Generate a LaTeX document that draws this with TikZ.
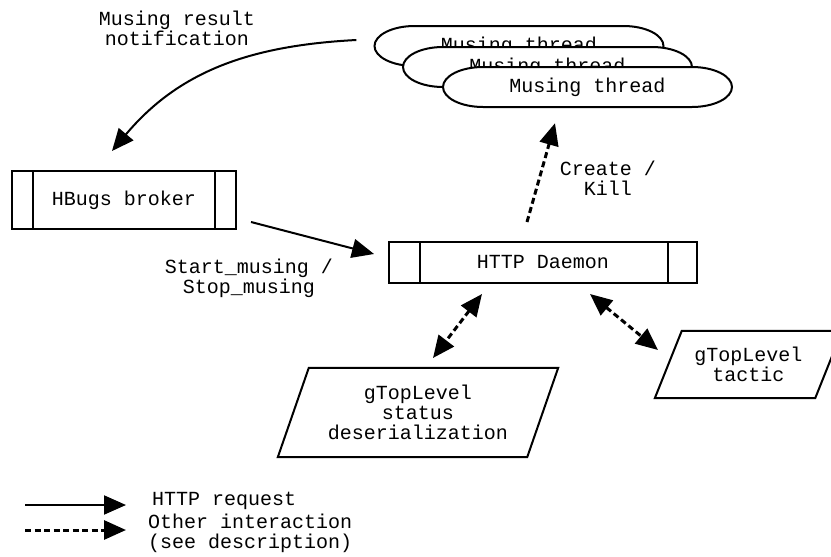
\documentclass[tikz,border=0pt]{standalone}
\usepackage{fontspec}
\setmainfont{Liberation Mono}
\usetikzlibrary{arrows.meta}

% Umriss eines Threads (flach mit elliptischen Enden)
\newcommand{\musingshape}[1]{%
    \draw[line width=2pt, fill=white] (#1) ++(-104.5,-20) -- ++(209,0)
        arc[start angle=-90, end angle=90, x radius=40, y radius=20] -- ++(-209,0)
        arc[start angle=90, end angle=270, x radius=40, y radius=20] -- cycle;}

\begin{document}
\begin{tikzpicture}[x=1pt, y=-1pt, font=\fontsize{20}{20}\selectfont,
        >={Triangle[length=22pt, width=19pt]},
        thread/.style={minimum width=289pt, minimum height=40pt, inner sep=0pt},
        server/.style={draw, line width=2pt, inner sep=0pt},
        http/.style={->, line width=2pt},
        other/.style={line width=3pt, dash pattern=on 6pt off 3.5pt},
        label/.style={align=center}]

        % Rahmen
        \useasboundingbox (0,0) rectangle (831,557);
        \clip (0,0) rectangle (831,557);

        % Threads (uebereinander gestapelt)
        \musingshape{519,46}
        \node[thread] (thread1) at (519,46) {Musing thread};
        \musingshape{547.5,67}
        \node[thread] (thread2) at (547.5,67) {Musing thread};
        \musingshape{587.5,87}
        \node[thread] (thread3) at (587.5,87) {Musing thread};

        % Broker und Daemon
        \node[server, minimum width=224pt, minimum height=58pt] (broker) at (124,200) {HBugs broker};
        \draw[line width=2pt] ([xshift=22pt]broker.north west) -- ([xshift=22pt]broker.south west);
        \draw[line width=2pt] ([xshift=-22pt]broker.north east) -- ([xshift=-22pt]broker.south east);

        \node[server, minimum width=308pt, minimum height=41pt] (daemon) at (543,262.5) {HTTP Daemon};
        \draw[line width=2pt] ([xshift=32pt]daemon.north west) -- ([xshift=32pt]daemon.south west);
        \draw[line width=2pt] ([xshift=-30pt]daemon.north east) -- ([xshift=-30pt]daemon.south east);

        % gTopLevel (Parallelogramme)
        \node[label, minimum width=249pt, minimum height=89pt] (status) at (418,412.5)
            {gTopLevel\\status\\deserialization};
        \draw[line width=2pt] ([xshift=15.5pt]status.north west) -- ([xshift=15.5pt]status.north east)
            -- ([xshift=-15.5pt]status.south east) -- ([xshift=-15.5pt]status.south west) -- cycle;

        \node[label, minimum width=160pt, minimum height=67pt] (tactic) at (748.5,364.5)
            {gTopLevel\\tactic};
        \draw[line width=2pt] ([xshift=13.5pt]tactic.north west) -- ([xshift=13.5pt]tactic.north east)
            -- ([xshift=-13.5pt]tactic.south east) -- ([xshift=-13.5pt]tactic.south west) -- cycle;

        % Pfeile
        \draw[http] ([xshift=-18pt, yshift=6pt]thread1.west)
            to[out=183, in=50] ([xshift=-12pt, yshift=19pt]broker.north);
        \draw[http] ([xshift=14pt, yshift=-22pt]broker.east)
            -- ([xshift=-14pt, yshift=8.5pt]daemon.west);
        \draw[other, ->] ([xshift=-16pt, yshift=19pt]daemon.north)
            -- ([xshift=-32.5pt, yshift=-16pt]thread3.south);
        \draw[other, <->] ([xshift=-61pt, yshift=-10pt]daemon.south)
            -- ([xshift=15pt, yshift=54.5pt]status.center);
        \draw[other, <->] ([xshift=47pt, yshift=-10pt]daemon.south)
            -- ([xshift=-90.5pt, yshift=14.5pt]tactic.center);

        % Beschriftungen
        \node[label] (notify) at (177,28) {Musing result\\notification};
        \node[label] (startstop) at (249,278) {Start\_musing /\\Stop\_musing};
        \node[label] (createkill) at (608,178) {Create /\\Kill};

        % Legende
        \coordinate (httpA) at (25,505);
        \coordinate (httpB) at (126,505);
        \coordinate (otherA) at (25,530);
        \coordinate (otherB) at (126,530);
        \draw[http] (httpA) -- (httpB);
        \draw[other, ->] (otherA) -- (otherB);
        \node[anchor=west, inner sep=0pt] (httplabel) at (152,501) {HTTP request};
        \node[anchor=west, inner sep=0pt, align=left] (otherlabel) at (148,533)
            {Other interaction\\(see description)};

    \end{tikzpicture}
\end{document}
